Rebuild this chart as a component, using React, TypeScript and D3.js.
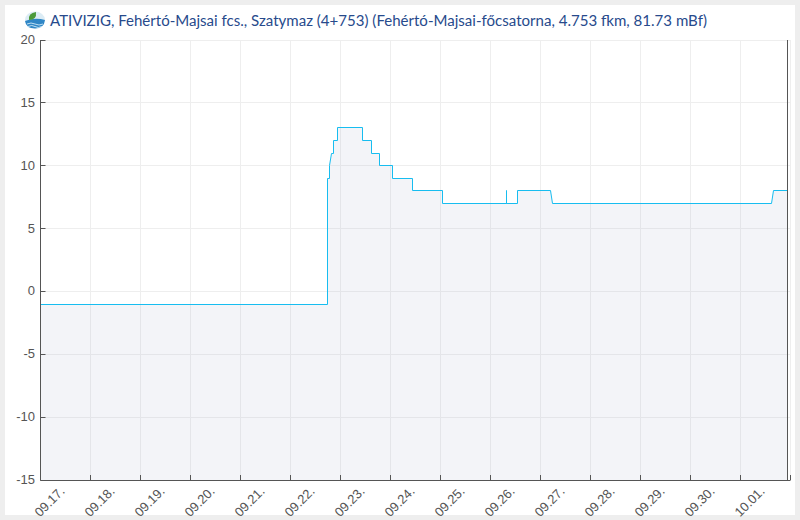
import React from "react";
import * as d3 from "d3";

const titleText = "ATIVIZIG, Fehértó-Majsai fcs., Szatymaz (4+753) (Fehértó-Majsai-főcsatorna, 4.753 fkm, 81.73 mBf)";
const dayLabels = ["09.17.", "09.18.", "09.19.", "09.20.", "09.21.", "09.22.", "09.23.", "09.24.", "09.25.", "09.26.", "09.27.", "09.28.", "09.29.", "09.30.", "10.01."];
const yTicks = [20, 15, 10, 5, 0, -5, -10, -15];
const seriesDays = [0, 5.74, 5.74, 5.78, 5.78, 5.82, 5.86, 5.86, 5.94, 5.94, 6.44, 6.44, 6.62, 6.62, 6.78, 6.78, 7.04, 7.04, 7.44, 7.44, 8.04, 8.04, 9.32, 9.32, 9.32, 9.54, 9.54, 10.2, 10.24, 14.62, 14.66, 14.94];
const seriesLevels = [-1, -1, 9, 9, 10, 11, 11, 12, 12, 13, 13, 12, 12, 11, 11, 10, 10, 9, 9, 8, 8, 7, 7, 8, 7, 7, 8, 8, 7, 7, 8, 8];

const L = 40.5, R = 790.5, T = 40, B = 480;

export default function App() {
  const x = d3.scaleLinear().domain([0, 15]).range([L, R]);
  const y = d3.scaleLinear().domain([-15, 20]).range([B, T]);
  const crisp = (v: number) => Math.floor(y(v)) + 0.5;
  const pts = seriesDays.map((d, i) => [d, seriesLevels[i]] as [number, number]);
  const line = d3.line<[number, number]>().x(d => x(d[0])).y(d => crisp(d[1]));
  const area = d3.area<[number, number]>().x(d => x(d[0])).y0(B + 0.5).y1(d => crisp(d[1]));
  const endX = x(seriesDays[seriesDays.length - 1]);
  const gridDays = d3.range(1, 16);
  const sans = "'Liberation Sans', Arial, sans-serif";
  return (
    <svg width={800} height={520} viewBox="0 0 800 520" style={{ position: "fixed", left: 0, top: 0, display: "block" }}>
      <rect x={0} y={0} width={800} height={520} fill="#eeeeee" />
      <rect x={5} y={5} width={790} height={510} fill="#ffffff" />
      {yTicks.filter(t => t !== -15).map(t => (
        <line key={t} x1={L} x2={R} y1={crisp(t)} y2={crisp(t)} stroke="#eeeeee" />
      ))}
      {gridDays.map(d => (
        <line key={d} x1={x(d)} x2={x(d)} y1={T} y2={B} stroke="#eeeeee" />
      ))}
      <path d={area(pts) ?? ""} fill="#9aa5c4" fillOpacity={0.12} />
      <path d={line(pts) ?? ""} fill="none" stroke="#17bdf0" strokeWidth={1} />
      <line x1={L} x2={L} y1={T} y2={B + 0.5} stroke="#555555" />
      <line x1={L} x2={R} y1={B + 0.5} y2={B + 0.5} stroke="#555555" />
      <line x1={endX} x2={endX} y1={T} y2={B} stroke="#555555" />
      {yTicks.map(t => (
        <g key={t}>
          <line x1={L} x2={L + 5} y1={crisp(t)} y2={crisp(t)} stroke="#555555" />
          <text x={35} y={y(t) + 4} textAnchor="end" fontFamily={sans} fontSize={13} fill="#555555">{t}</text>
        </g>
      ))}
      {gridDays.map(d => (
        <line key={d} x1={x(d)} x2={x(d)} y1={B - 5} y2={B} stroke="#555555" />
      ))}
      {dayLabels.map((l, i) => (
        <text key={l} transform={`translate(${x(i) + 25},${B + 12}) rotate(-45)`} textAnchor="end" fontFamily={sans} fontSize={13} fill="#555555">{l}</text>
      ))}
      <g>
        <ellipse cx={35} cy={20} rx={10} ry={8.5} fill="#dcecf5" />
        <path d="M25 21 Q35 17 45 20 Q44 28.5 35 28.5 Q26 28.5 25 21 Z" fill="#2f86c6" />
        <path d="M27 24 Q31 22 35 24 T43 24" fill="none" stroke="#bfe0f2" strokeWidth={1} />
        <path d="M28 26.5 Q32 24.5 35 26.5 T42 26.5" fill="none" stroke="#bfe0f2" strokeWidth={1} />
        <path d="M29 20 Q28 13 36 12 Q37 20 29 20 Z" fill="#4c9a3a" />
      </g>
      <text x={50} y={26} fontFamily="Lato, 'Open Sans', sans-serif" fontSize={15.05} fill="#274a8c">{titleText}</text>
    </svg>
  );
}
